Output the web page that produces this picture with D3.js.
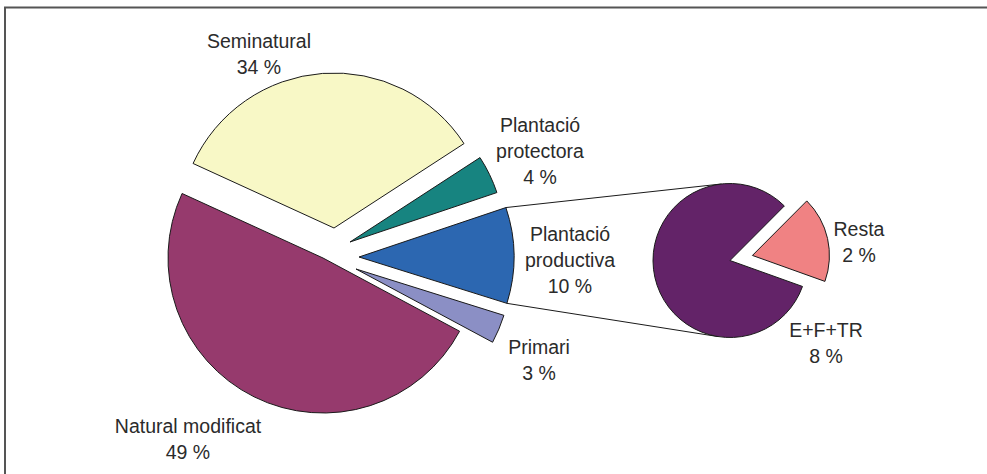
<!DOCTYPE html>
<html lang="ca">
  <head>
    <meta charset="UTF-8" />
    <title>Superfície per tipus de bosc</title>
    <style>
      body {
        margin: 0;
        background: #fff;
      }
      .label {
        font-family: "Liberation Sans", Arial, sans-serif;
        font-size: 19.5px;
        fill: #2b2b2b;
        text-anchor: middle;
      }
      .slice {
        stroke: #1a1a1a;
        stroke-width: 1px;
      }
      .connector {
        stroke: #1a1a1a;
        stroke-width: 1px;
      }
    </style>
  </head>
  <body>
    <svg width="987" height="474"></svg>

    <script src="https://cdn.jsdelivr.net/npm/d3@7"></script>
    <script>
      // main pie (share of total forest surface, %)
      const mainLabels = [
        "Seminatural",
        "Plantació protectora",
        "Plantació productiva",
        "Primari",
        "Natural modificat",
      ];
      const mainValues = [34, 4, 10, 3, 49];
      const mainColors = ["#f8f8c6", "#178480", "#2c67b1", "#8b8fc5", "#963a6d"];

      // breakdown of "Plantació productiva"
      const subLabels = ["Resta", "E+F+TR"];
      const subValues = [1.8, 8.2];
      const subColors = ["#f08283", "#632368"];

      // layout
      const mainCenter = [323, 258];
      const mainRadius = 155;
      const mainStart = (-65.4 * Math.PI) / 180;
      // per slice pull-out (px) as in the original drawing
      const mainExplode = [[11, -30], [27, -16], [36, -1], [33, 11], [0, 0]];
      // label anchor (x, first baseline)
      const mainLabelPos = [[259, 48], [540, 132], [570, 241], [539, 354], [188, 433]];

      const subCenter = [730, 260.5];
      const subRadius = 77;
      const subStart = (44.9 * Math.PI) / 180;
      const subExplode = [23, 0];
      const subLabelPos = [[859, 236], [826, 337]];
      const lineH = 26;

      const svg = d3.select("svg");

      // frame (top and left edge only are visible)
      svg.append("path")
        .attr("d", "M5,474 V7.5 H987")
        .attr("fill", "none")
        .attr("stroke", "#555")
        .attr("stroke-width", 2);

      const mainPie = d3.pie().sort(null)
        .startAngle(mainStart)
        .endAngle(mainStart + 2 * Math.PI);
      const mainArcs = mainPie(mainValues);
      const arc = d3.arc().innerRadius(0).outerRadius(mainRadius);

      const subPie = d3.pie().sort(null)
        .startAngle(subStart)
        .endAngle(subStart + 2 * Math.PI);
      const subArcs = subPie(subValues);
      const subArc = d3.arc().innerRadius(0).outerRadius(subRadius);

      // connector lines from productive plantation slice to the small pie
      const prod = mainArcs[2];
      const px = mainCenter[0] + mainExplode[2][0];
      const py = mainCenter[1] + mainExplode[2][1];
      const corner = (a) => [px + mainRadius * Math.sin(a), py - mainRadius * Math.cos(a)];
      function tangent(p, sign) {
        const dx = p[0] - subCenter[0], dy = p[1] - subCenter[1];
        const d = Math.hypot(dx, dy);
        const phi = Math.atan2(dy, dx) + sign * Math.acos(subRadius / d);
        return [subCenter[0] + subRadius * Math.cos(phi), subCenter[1] + subRadius * Math.sin(phi)];
      }
      const cTop = corner(prod.startAngle), cBot = corner(prod.endAngle);
      [[cTop, tangent(cTop, 1)], [cBot, tangent(cBot, -1)]].forEach(([a, b]) => {
        svg.append("line")
          .attr("class", "connector")
          .attr("x1", a[0]).attr("y1", a[1])
          .attr("x2", b[0]).attr("y2", b[1]);
      });

      // main pie
      svg.append("g")
        .attr("transform", `translate(${mainCenter[0]},${mainCenter[1]})`)
        .selectAll("path")
        .data(mainArcs)
        .join("path")
        .attr("class", "slice")
        .attr("d", arc)
        .attr("fill", (d, i) => mainColors[i])
        .attr("transform", (d, i) => `translate(${mainExplode[i][0]},${mainExplode[i][1]})`);

      // small pie
      svg.append("g")
        .attr("transform", `translate(${subCenter[0]},${subCenter[1]})`)
        .selectAll("path")
        .data(subArcs)
        .join("path")
        .attr("class", "slice")
        .attr("d", subArc)
        .attr("fill", (d, i) => subColors[i])
        .attr("transform", (d, i) => {
          const m = (d.startAngle + d.endAngle) / 2;
          return `translate(${subExplode[i] * Math.sin(m)},${-subExplode[i] * Math.cos(m)})`;
        });

      // labels
      function addLabel(name, value, pos) {
        const words = name.split(" ");
        const lines = (words.length > 1 && name.startsWith("Plantació") ? words : [name])
          .concat([Math.round(value) + " %"]);
        const t = svg.append("text").attr("class", "label");
        lines.forEach((s, k) => {
          t.append("tspan").attr("x", pos[0]).attr("y", pos[1] + k * lineH).text(s);
        });
      }
      mainLabels.forEach((n, i) => addLabel(n, mainValues[i], mainLabelPos[i]));
      subLabels.forEach((n, i) => addLabel(n, subValues[i], subLabelPos[i]));
    </script>
  </body>
</html>
